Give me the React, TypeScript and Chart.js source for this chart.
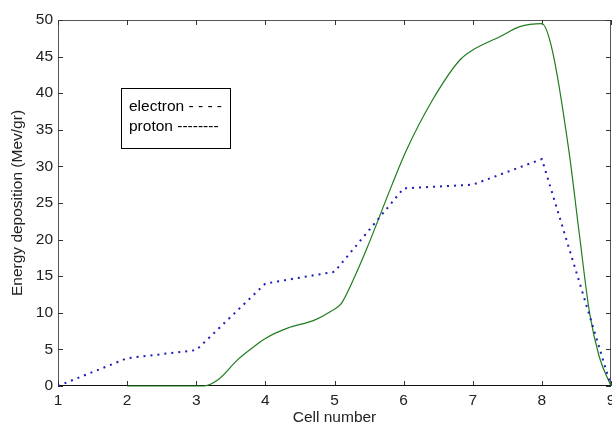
import { useEffect, useRef } from 'react';
import { Chart, registerables } from 'chart.js';

Chart.register(...registerables);

// ---- data ----
const xTickValues = [1, 2, 3, 4, 5, 6, 7, 8, 9];
const yTickValues = [0, 5, 10, 15, 20, 25, 30, 35, 40, 45, 50];

const electronCells = [1, 2, 3, 4, 5, 6, 7, 8, 9];
const electronEnergy = [0, 3.8, 4.9, 14, 15.6, 27, 27.5, 31, 0];

const protonCells = [2, 3, 3.1, 3.32, 3.6, 3.85, 4, 4.32, 4.71, 4.95, 5.1, 5.29, 5.46, 5.82, 6.04, 6.42, 6.81, 7, 7.39, 7.68, 8, 8.15, 8.39, 8.54, 8.69, 8.83, 9];
const protonEnergy = [0, 0, 0, 0.9, 3.6, 5.5, 6.5, 7.9, 9.0, 10.2, 11.3, 14.9, 18.6, 27.2, 32.2, 39.1, 44.5, 45.9, 47.7, 49.1, 49.5, 45.9, 32.2, 20.9, 10, 4, 0];

const legendLines = ['electron - - - -', 'proton --------'];
const xTitle = 'Cell number';
const yTitle = 'Energy deposition (Mev/gr)';

const FONT = 'Liberation Sans, Arial, Helvetica, sans-serif';
const FONT_SIZE = 15.5;

const framePlugin = {
  id: 'frame',
  beforeDatasetsDraw(chart: any) {
    const { ctx, chartArea: a, scales } = chart;
    const x = scales.x;
    const y = scales.y;
    ctx.save();
    ctx.strokeStyle = '#555';
    ctx.lineWidth = 1;
    ctx.strokeRect(a.left + 0.5, a.top + 0.5, a.right - a.left - 1, a.bottom - a.top - 1);
    ctx.strokeStyle = '#333';
    ctx.beginPath();
    const tl = 5;
    for (const v of xTickValues) {
      const px = Math.round(x.getPixelForValue(v)) + 0.5;
      ctx.moveTo(px, a.bottom);
      ctx.lineTo(px, a.bottom - tl);
      ctx.moveTo(px, a.top);
      ctx.lineTo(px, a.top + tl);
    }
    for (const v of yTickValues) {
      const py = Math.round(y.getPixelForValue(v)) + 0.5;
      ctx.moveTo(a.left, py);
      ctx.lineTo(a.left + tl, py);
      ctx.moveTo(a.right, py);
      ctx.lineTo(a.right - tl, py);
    }
    ctx.stroke();
    // darker bottom axis
    ctx.strokeStyle = '#111';
    ctx.beginPath();
    ctx.moveTo(a.left, a.bottom - 0.5);
    ctx.lineTo(a.right, a.bottom - 0.5);
    ctx.stroke();
    ctx.restore();
  },
  afterDraw(chart: any) {
    const { ctx, chartArea: a } = chart;
    const bx = a.left + 63;
    const by = a.top + 68;
    const bw = 110;
    const bh = 61;
    ctx.save();
    ctx.fillStyle = '#fff';
    ctx.fillRect(bx, by, bw, bh);
    ctx.strokeStyle = '#000';
    ctx.lineWidth = 1;
    ctx.strokeRect(bx + 0.5, by + 0.5, bw - 1, bh - 1);
    ctx.fillStyle = '#000';
    ctx.font = `${FONT_SIZE}px ${FONT}`;
    ctx.textBaseline = 'middle';
    ctx.textAlign = 'left';
    legendLines.forEach((t, i) => {
      ctx.fillText(t, bx + 8, by + 19 + i * 20);
    });
    ctx.restore();
  },
};

export default function App() {
  const ref = useRef<HTMLCanvasElement>(null);
  useEffect(() => {
    document.body.style.margin = '0';
    const canvas = ref.current!;
    const tickFont = { family: FONT, size: FONT_SIZE };
    const chart = new Chart(canvas, {
      type: 'line',
      data: {
        datasets: [
          {
            label: 'electron',
            data: electronCells.map((c, i) => ({ x: c, y: electronEnergy[i] })),
            borderColor: '#1c1cb8',
            borderWidth: 2,
            borderDash: [2, 5],
            borderCapStyle: 'butt',
            pointRadius: 0,
            tension: 0,
            fill: false,
          },
          {
            label: 'proton',
            data: protonCells.map((c, i) => ({ x: c, y: protonEnergy[i] })),
            borderColor: '#1f7d1f',
            borderWidth: 1.2,
            pointRadius: 0,
            cubicInterpolationMode: 'monotone',
            fill: false,
            clip: false,
          },
        ],
      },
      options: {
        animation: false,
        responsive: false,
        devicePixelRatio: 1,
        layout: { padding: { top: 20, right: 1, left: 0, bottom: 0 } },
        plugins: { legend: { display: false }, tooltip: { enabled: false } },
        scales: {
          x: {
            type: 'linear',
            min: 1,
            max: 9,
            afterBuildTicks: (s: any) => {
              s.ticks = xTickValues.map((v) => ({ value: v }));
            },
            afterFit: (s: any) => {
              s.height = 44;
              s.paddingLeft = 0;
              s.paddingRight = 0;
            },
            grid: { display: false, drawTicks: false },
            border: { display: false },
            ticks: { padding: 5, font: tickFont, color: '#222', maxRotation: 0, autoSkip: false },
            title: { display: true, text: xTitle, font: tickFont, color: '#222', padding: { top: 0, bottom: 3 } },
          },
          y: {
            type: 'linear',
            min: 0,
            max: 50,
            afterBuildTicks: (s: any) => {
              s.ticks = yTickValues.map((v) => ({ value: v }));
            },
            afterFit: (s: any) => {
              s.width = 58;
              s.paddingTop = 0;
              s.paddingBottom = 0;
            },
            grid: { display: false, drawTicks: false },
            border: { display: false },
            ticks: { padding: 5, font: tickFont, color: '#222', autoSkip: false },
            title: { display: true, text: yTitle, font: tickFont, color: '#222', padding: { top: 8, bottom: 0 } },
          },
        },
      },
      plugins: [framePlugin],
    } as any);
    return () => chart.destroy();
  }, []);
  return (
    <div style={{ width: 612, height: 430, position: 'relative', background: '#fff' }}>
      <canvas ref={ref} width={612} height={430} style={{ display: 'block' }} />
    </div>
  );
}
